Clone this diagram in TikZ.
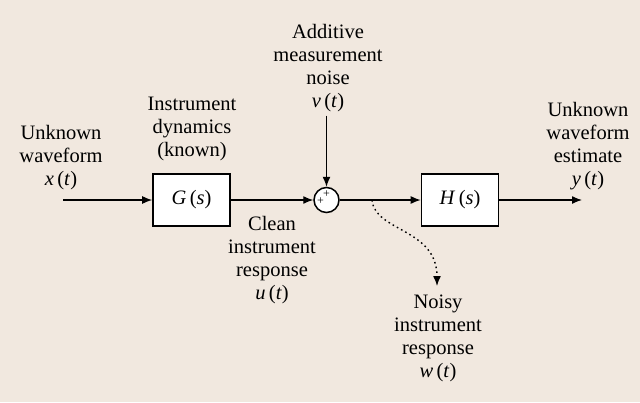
\documentclass[tikz,border=0pt]{standalone}
\usepackage{fontspec}
\setmainfont{Liberation Serif}
\usetikzlibrary{arrows.meta}

\definecolor{paper}{RGB}{241,232,223}
\newcommand{\sigt}[1]{\textit{#1}\,(\textit{t})}

\begin{document}
\begin{tikzpicture}[x=1pt,y=-1pt,
  >={Latex[length=10pt,width=8pt]},
  every node/.style={font=\fontsize{20.5}{23}\selectfont},
  block/.style={draw,line width=1.6pt,fill=white,minimum width=77pt,minimum height=52pt,inner sep=0pt},
  sumjn/.style={draw,circle,line width=1.5pt,fill=white,minimum size=25pt,inner sep=0pt},
  txt/.style={align=center,anchor=base,inner sep=0pt},
  plus/.style={font=\fontsize{12}{12}\selectfont,inner sep=0pt},
  sig/.style={->,line width=1.3pt}]

  % background and size of the page
  \fill[paper] (0,0) rectangle (640,402);
  \useasboundingbox (0,0) rectangle (640,402);

  % --- Blocks ---
  \node[block] (G) at (191.5,200) {\textit{G}\,(\textit{s})};
  \node[sumjn] (sum) at (326.5,200) {};
  \node[block] (H) at (460,200) {\textit{H}\,(\textit{s})};
  % signs of the summing junction
  \node[plus] (ptop) at ([yshift=6pt]sum.center) {+};
  \node[plus] (pleft) at ([xshift=-6pt,yshift=-1pt]sum.center) {+};

  % free ends
  \coordinate (xin) at (63,200);
  \coordinate (yout) at (582,200);
  \coordinate (tap) at (372,200);
  \coordinate (wtip) at (437,286);

  % --- Labels (anchored at the baseline of the last line) ---
  \node[txt] (xlab) at (61,185) {Unknown\\waveform\\\sigt{x}};
  \node[txt] (glab) at (192,156) {Instrument\\dynamics\\(known)};
  \node[txt] (vlab) at (328,107) {Additive\\measurement\\noise\\\sigt{v}};
  \node[txt] (ulab) at (272,299) {Clean\\instrument\\response\\\sigt{u}};
  \node[txt] (wlab) at (438,377) {Noisy\\instrument\\response\\\sigt{w}};
  \node[txt] (ylab) at (588,185) {Unknown\\waveform\\estimate\\\sigt{y}};

  % --- Signal flow ---
  \draw[sig] (xin) -- (G);
  \draw[sig] (G) -- (sum);
  \draw[sig] (sum) -- (H);
  \draw[sig] (H) -- (yout);
  \draw[sig,shorten <=4pt] (vlab.south -| sum) -- (sum);
  % tapped noisy response
  \draw[sig,line width=1.4pt,dash pattern=on 1.6pt off 3.2pt]
    (tap) .. controls (375,232) and (437,228) .. (wtip);
\end{tikzpicture}
\end{document}
